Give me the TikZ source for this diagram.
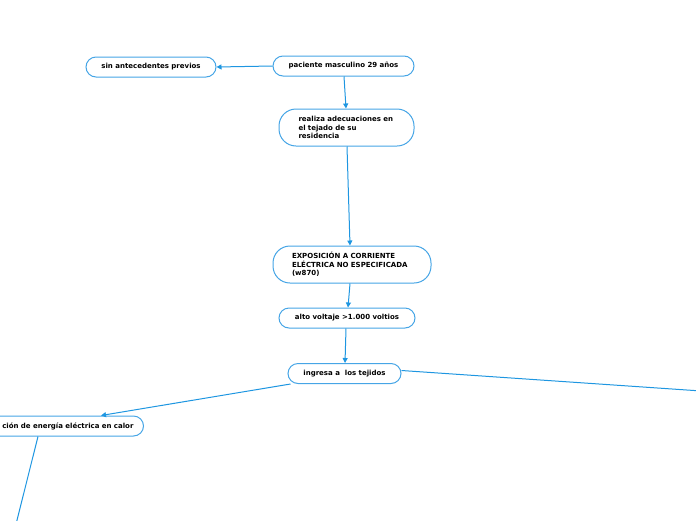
\documentclass[tikz,border=0pt]{standalone}
\usepackage{fontspec}
\setmainfont{DejaVu Sans}
\usetikzlibrary{positioning,arrows.meta}
\definecolor{mapline}{RGB}{30,150,225}
\definecolor{mapbox}{RGB}{70,165,230}
\tikzset{
	idea/.style={draw=mapbox, line width=1pt, rounded corners=10pt, fill=white,
		font=\fontsize{7}{8.5}\selectfont\bfseries, inner sep=0pt, minimum height=20pt},
	bigidea/.style={idea, rounded corners=17pt, minimum height=37pt, align=left},
	link/.style={draw=mapline, line width=1pt, -{Triangle[width=5pt,length=5pt]}},
	loose/.style={draw=mapline, line width=1pt}
}

\begin{document}
\begin{tikzpicture}[x=1pt,y=-1pt]
	\useasboundingbox (0,0) rectangle (696,520);
	\clip (0,0) rectangle (696,520);

	\node[idea, minimum width=141pt] (paciente) at (343.5,66) {paciente masculino 29 años};
	\node[idea, minimum width=130pt] (previos) at (151,67) {sin antecedentes previos};
	\node[bigidea, minimum width=135pt, text width=96pt] (tejado) at (346.5,127.5)
	{realiza adecuaciones en\\el tejado de su\\residencia};
	\node[bigidea, minimum width=158pt, text width=120pt] (exposicion) at (352,264.5)
	{EXPOSICIÓN A CORRIENTE\\ELÉCTRICA NO ESPECIFICADA\\(w870)};
	\node[idea, minimum width=136pt] (voltaje) at (347,318) {alto voltaje >1.000 voltios};
	\node[idea, minimum width=113pt] (tejidos) at (344.5,373.5) {ingresa a \ los tejidos};
	\node[idea, anchor=east, inner xsep=10pt, text width=150pt, align=right]
		(calor) at (144,426) {ción de energía eléctrica en calor};

	\coordinate (derecha) at (760,395);
	\coordinate (abajo) at (2,580);

	\draw[link] (paciente.west) -- (previos.east);
	\draw[link] ([xshift=0.5pt]paciente.south) -- ([xshift=-0.5pt]tejado.north);
	\draw[link] ([xshift=0.5pt]tejado.south) -- ([xshift=-2pt]exposicion.north);
	\draw[link] ([xshift=-2pt]exposicion.south) -- ([xshift=1pt]voltaje.north);
	\draw[link] ([xshift=-1pt]voltaje.south) -- ([xshift=0.5pt]tejidos.north);
	\draw[link] ([xshift=3pt]tejidos.south west) -- ([xshift=-43pt]calor.north east);
	\draw[loose] ([yshift=3pt]tejidos.east) -- (derecha);
	\draw[loose] ([xshift=-106pt]calor.south east) -- (abajo);

\end{tikzpicture}
\end{document}
